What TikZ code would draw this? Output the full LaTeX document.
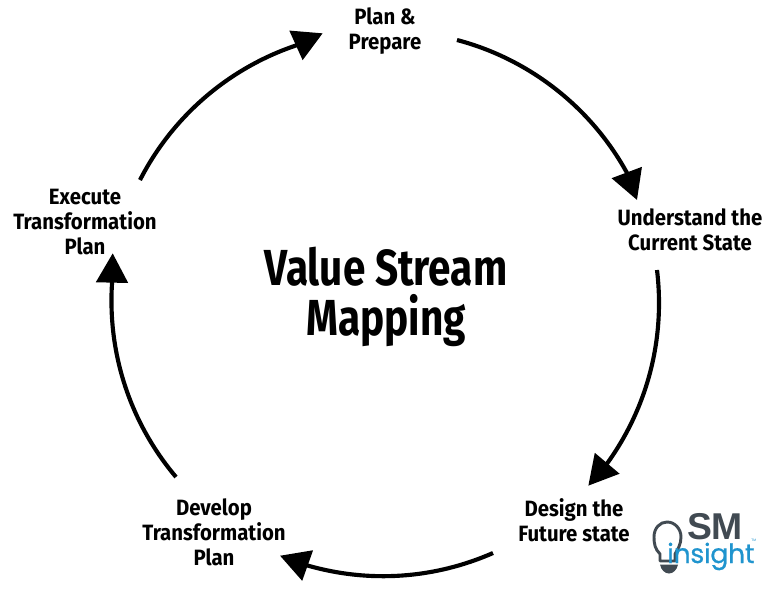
\documentclass[tikz,border=0pt]{standalone}
\usepackage{fontspec}
\setmainfont{Fira Sans}
\newfontfamily\titlefont[FakeStretch=.80]{Fira Sans}
\newfontfamily\labelfont[FakeStretch=.92]{Fira Sans}
\newfontfamily\popfont[FakeBold=0.6,LetterSpace=-1]{Poppins}
\newfontfamily\logofont{Liberation Sans}
\usetikzlibrary{arrows.meta}
\definecolor{logogray}{HTML}{414A52}
\definecolor{logoblue}{HTML}{1F94CE}
\tikzset{
  x=0.75pt,y=-0.75pt,
  lbl/.style={align=center,font=\labelfont\fontsize{16.6}{18.6}\selectfont\bfseries,text=black,inner sep=0pt},
  ttl/.style={align=center,font=\titlefont\fontsize{38}{37.5}\selectfont\bfseries,text=black,inner sep=0pt},
  cyc/.style={line width=3.1pt,black,-{Triangle[length=22pt,width=23.5pt]}},
  bow/.style={bend left=#1,looseness=.885},
  bulb/.style={line width=2.2pt,logogray,line cap=round,line join=round},
}
\begin{document}
\begin{tikzpicture}
\useasboundingbox (0,0) rectangle (768,590);
\fill[white] (0,0) rectangle (768,590);
\node[ttl] (title) at (386,297) {Value Stream\\Mapping};
\node[lbl] (plan) at (385,31) {Plan \&\\Prepare};
\node[lbl] (understand) at (690,230) {Understand the\\Current State};
\node[lbl] (design) at (574,520) {Design the\\Future state};
\node[lbl] (develop) at (214,532) {Develop\\Transformation\\Plan};
\node[lbl] (execute) at (85,222) {Execute\\Transformation\\Plan};
\coordinate (a1) at (457,40);  \coordinate (c1) at (626.7,172.4); \coordinate (b1) at (637,200);
\coordinate (a2) at (657,270); \coordinate (c2) at (607.6,462.8); \coordinate (b2) at (588.3,485.7);
\coordinate (a3) at (493,553); \coordinate (c3) at (307.5,565.5); \coordinate (b3) at (280,555.7);
\coordinate (a4) at (176,477); \coordinate (c4) at (112,283.6);   \coordinate (b4) at (112.7,253.3);
\coordinate (a5) at (140,180); \coordinate (c5) at (295,45.8);    \coordinate (b5) at (322.7,33.3);
\draw[cyc] (a1) to[bow=23.2] (c1) -- (b1);
\draw[cyc] (a2) to[bow=21.25] (c2) -- (b2);
\draw[cyc] (a3) to[bow=19.85] (c3) -- (b3);
\draw[cyc] (a4) to[bow=21.9] (c4) -- (b4);
\draw[cyc] (a5) to[bow=22.05] (c5) -- (b5);
% logo
\draw[bulb] (660,554) .. controls (655,549) and (654,544) .. (654,537)
  .. controls (654,528) and (660,522) .. (667,522)
  .. controls (675,522) and (681,529) .. (681,537)
  .. controls (681,544) and (678,549) .. (675,554) -- (675,561) -- (660,561) -- cycle;
\fill[logogray] (660,564.5) -- (678,564.5) .. controls (677,570) and (673,573.5) .. (669,573.5) .. controls (665,573.5) and (661,570) .. (660,564.5) -- cycle;
\node[inner sep=0pt,anchor=center,text=logogray,font=\logofont\fontsize{28}{28}\selectfont\bfseries] (sm) at (715,527) {SM};
\node[inner sep=0pt,anchor=base west,text=logoblue,font=\popfont\fontsize{20}{20}\selectfont] (insight) at (667,563) {insight};
\node[inner sep=0pt,anchor=west,text=logoblue,font=\logofont\fontsize{2.5}{3}\selectfont] (tm) at (751,540) {TM};
\end{tikzpicture}
\end{document}
